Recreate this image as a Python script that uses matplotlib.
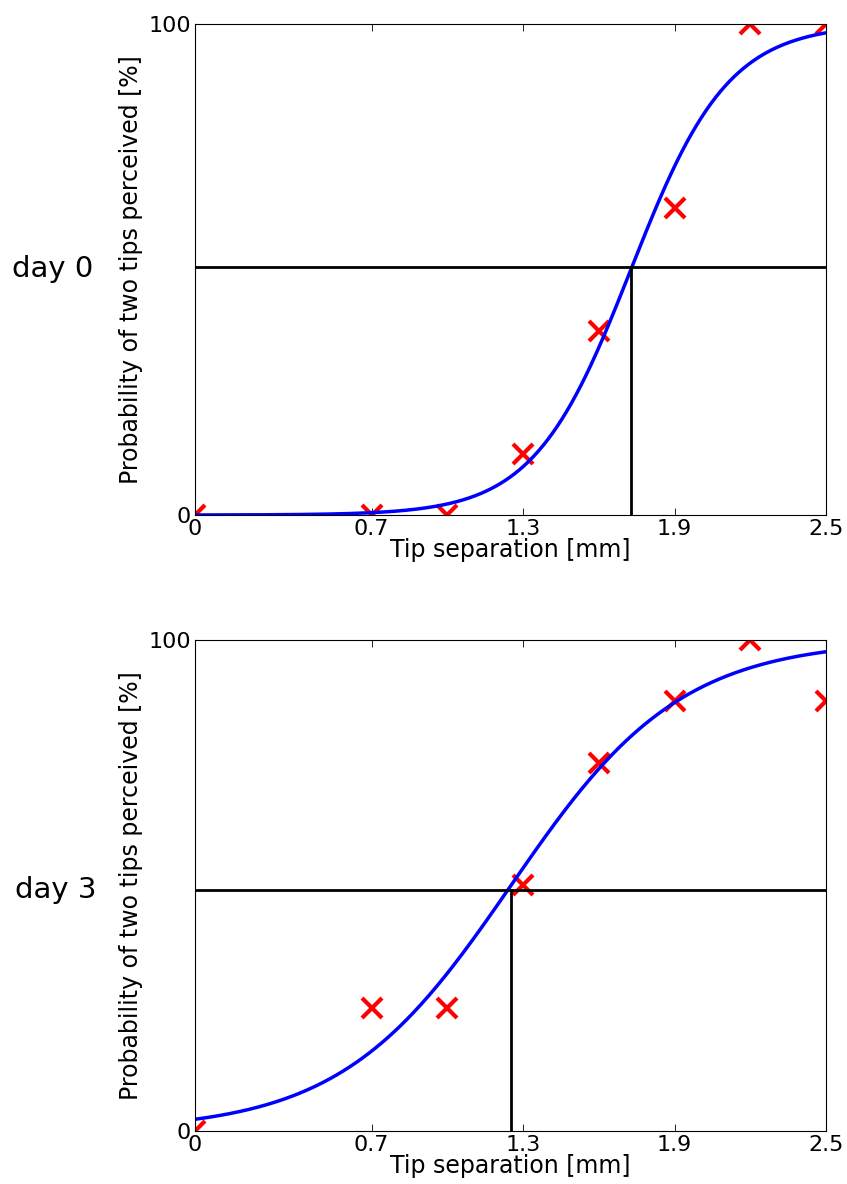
import numpy as np
from matplotlib import pyplot as plt

# tip separations tested [mm]
separation = [0.0, 0.7, 1.0, 1.3, 1.6, 1.9, 2.2, 2.5]

# percentage of trials where two tips were perceived
day0_percent = [0.0, 0.0, 0.0, 12.5, 37.5, 62.5, 100.0, 100.0]
day3_percent = [0.0, 25.0, 25.0, 50.0, 75.0, 87.5, 100.0, 87.5]

# logistic fit: (threshold [mm], slope [mm])
day0_fit = (1.727, 0.193)
day3_fit = (1.252, 0.337)

# level of the horizontal criterion line [%]
day0_level = 50.5
day3_level = 49.1

x_ticks = [0, 0.7, 1.3, 1.9, 2.5]
x_tick_labels = ["0", "0.7", "1.3", "1.9", "2.5"]
y_ticks = [0, 100]


def logistic(x, threshold, slope):
    """Psychometric curve in percent."""
    return 100.0 / (1.0 + np.exp(-(x - threshold) / slope))


def draw_day(fig, ax, percent, fit, level, name, name_xy):
    """Draw one psychometric panel."""
    threshold, slope = fit
    xs = np.linspace(separation[0], separation[-1], 400)

    ax.plot(separation, percent, "x", color="red", markersize=14,
            markeredgewidth=3)
    ax.plot(xs, logistic(xs, threshold, slope), color="blue", linewidth=2.5)
    ax.axhline(level, color="black", linewidth=2)
    ax.plot([threshold, threshold], [0, level], color="black", linewidth=2)

    ax.set_xlim(0, 2.5)
    ax.set_ylim(0, 100)
    ax.set_xticks(x_ticks)
    ax.set_xticklabels(x_tick_labels)
    ax.set_yticks(y_ticks)
    ax.tick_params(direction="in", top=True, right=True, length=5,
                   width=0.6, labelsize=16, pad=3)
    ax.set_xlabel("Tip separation [mm]", fontsize=17, labelpad=-1)
    ax.set_ylabel("Probability of two tips perceived [%]", fontsize=17,
                  labelpad=4)

    fig.text(name_xy[0], name_xy[1], name, fontsize=21,
             ha="center", va="center")


def main() -> None:
    fig = plt.figure(figsize=(8.47, 11.84), dpi=100)
    top = fig.add_axes([0.2302, 0.565, 0.745, 0.4147])
    bottom = fig.add_axes([0.2302, 0.0448, 0.745, 0.4147])

    draw_day(fig, top, day0_percent, day0_fit, day0_level, "day 0",
             (0.062, 0.773))
    draw_day(fig, bottom, day3_percent, day3_fit, day3_level, "day 3",
             (0.066, 0.248))

    fig.savefig("out.png", dpi=100)


if __name__ == "__main__":
    main()
